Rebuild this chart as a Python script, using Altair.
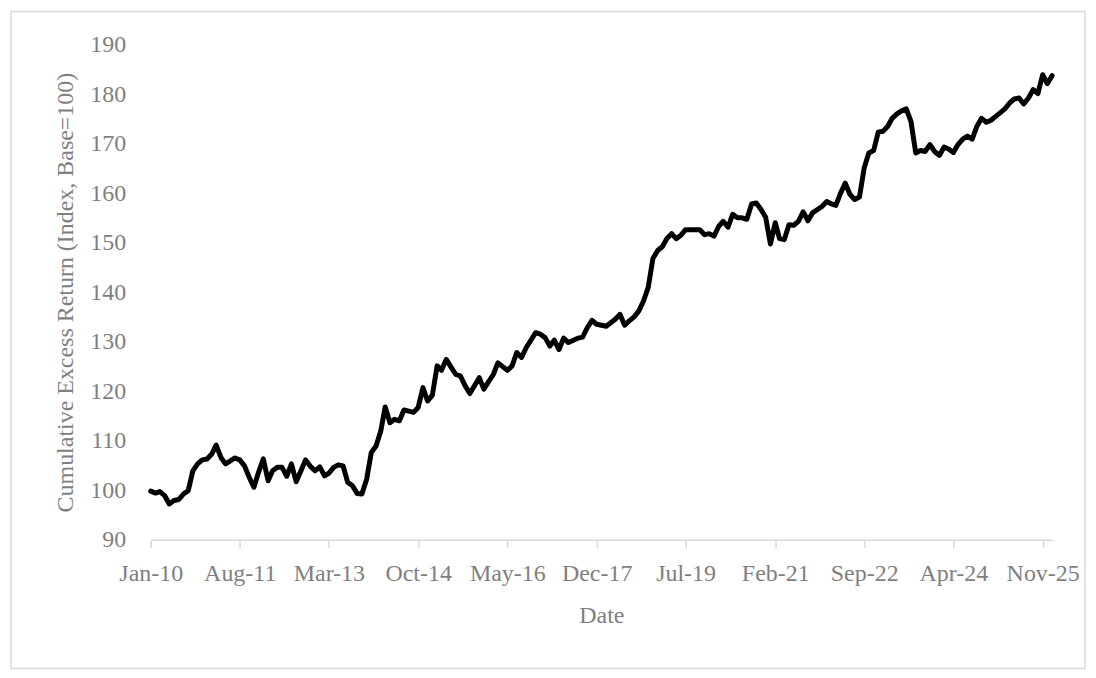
import altair as alt
import pandas as pd

month_index = [
    0, 1, 2, 3, 4, 5, 6, 7, 8, 9, 10, 11, 12, 13, 14, 15, 16, 17, 18, 19,
    20, 21, 22, 23, 24, 25, 26, 27, 28, 29, 30, 31, 32, 33, 34, 35, 36, 37, 38, 39,
    40, 41, 42, 43, 44, 45, 46, 47, 48, 49, 50, 51, 52, 53, 54, 56, 57, 58, 59,
    60, 61, 62, 63, 64, 65, 66, 67, 68, 70, 71, 72, 73, 74, 76, 77, 78, 79,
    80, 82, 83, 84, 85, 86, 87, 88, 89, 91, 92, 93, 94, 95, 97, 99,
    100, 101, 102, 103, 104, 105, 106, 107, 108, 109, 110, 111, 112, 113, 114, 116, 117, 118, 119,
    120, 121, 122, 123, 124, 125, 126, 127, 128, 129, 130, 131, 132, 133, 134, 135, 136, 137, 138, 139,
    140, 141, 143, 144, 145, 146, 147, 148, 149, 150, 151, 152, 153, 154, 155, 156, 157, 158, 159,
    160, 161, 162, 163, 164, 165, 166, 167, 168, 169, 170, 171, 172, 173, 174, 175, 176, 177, 178, 179,
    180, 182, 183, 184, 185, 186, 187, 188, 189, 190, 191, 192,
]
index_values = [
    99.8, 99.4, 99.7, 98.9, 97.2, 97.9, 98.1, 99.2, 99.9, 103.9, 105.3, 106.1, 106.3, 107.3, 109.1, 106.6, 105.3, 105.9, 106.5, 106.1,
    104.9, 102.6, 100.6, 103.6, 106.3, 101.9, 103.9, 104.6, 104.6, 102.8, 105.3, 101.7, 103.9, 106.1, 104.8, 103.9, 104.7, 102.9, 103.4, 104.6,
    105.1, 104.9, 101.6, 100.9, 99.3, 99.2, 102.2, 107.6, 108.9, 112.0, 116.8, 113.6, 114.3, 114.0, 116.2, 115.7, 116.7, 120.7, 118.0,
    119.2, 125.1, 124.2, 126.4, 124.9, 123.4, 123.1, 121.1, 119.5, 122.7, 120.4, 121.9, 123.4, 125.7, 124.2, 125.1, 127.8, 126.8,
    128.8, 131.8, 131.5, 130.8, 129.1, 130.3, 128.4, 130.7, 129.8, 130.7, 130.9, 132.8, 134.3, 133.5, 133.1, 134.5,
    135.5, 133.3, 134.2, 135.0, 136.2, 138.2, 141.0, 146.8, 148.4, 149.2, 150.8, 151.8, 150.8, 151.5, 152.6, 152.6, 152.6, 151.6, 151.8,
    151.3, 153.3, 154.3, 153.1, 155.7, 155.0, 155.0, 154.7, 157.8, 158.0, 156.7, 155.1, 149.7, 154.0, 150.8, 150.6, 153.6, 153.5, 154.3, 156.2,
    154.4, 156.0, 157.3, 158.3, 157.8, 157.5, 160.0, 162.0, 159.7, 158.7, 159.2, 165.1, 168.1, 168.6, 172.3, 172.5, 173.5, 175.1, 176.0,
    176.6, 177.0, 174.5, 168.1, 168.6, 168.4, 169.8, 168.4, 167.6, 169.3, 168.9, 168.2, 169.8, 170.9, 171.5, 170.9, 173.5, 175.1, 174.3, 174.7,
    175.5, 177.0, 178.2, 179.0, 179.2, 178.0, 179.2, 180.9, 180.1, 183.9, 182.1, 183.7,
]

tick_months = [(2010, 1), (2011, 8), (2013, 3), (2014, 10), (2016, 5), (2017, 12),
               (2019, 7), (2021, 2), (2022, 9), (2024, 4), (2025, 11)]
y_ticks = [90, 100, 110, 120, 130, 140, 150, 160, 170, 180, 190]

start = pd.Timestamp("2010-01-01")
dates = [(start + pd.DateOffset(months=m)).strftime("%Y-%m-%d") for m in month_index]
df = pd.DataFrame({"date": dates, "value": index_values})

FONT = "Liberation Serif"
GREY = "#7f7f7f"

x_enc = alt.X(
    "date:T",
    title="Date",
    scale=alt.Scale(
        type="utc",
        domain=[alt.DateTime(year=2010, month=1, date=1, utc=True),
                alt.DateTime(year=2026, month=1, date=1, utc=True)],
        nice=False,
    ),
    axis=alt.Axis(
        values=[alt.DateTime(year=y, month=m, date=1, utc=True) for y, m in tick_months],
        format="%b-%y",
        grid=False,
        domainColor="#d9d9d9",
        domainWidth=1.5,
        tickColor="#d9d9d9",
        tickWidth=1.5,
        tickSize=8,
        labelPadding=14,
        titlePadding=18,
        labelFlush=False,
        labelOverlap=False,
        labelFont=FONT,
        titleFont=FONT,
        labelFontSize=24,
        titleFontSize=24,
        labelColor=GREY,
        titleColor=GREY,
        titleFontWeight="normal",
    ),
)
y_enc = alt.Y(
    "value:Q",
    title="Cumulative Excess Return (Index, Base=100)",
    scale=alt.Scale(domain=[90, 190], nice=False, zero=False),
    axis=alt.Axis(
        values=y_ticks,
        grid=False,
        domain=False,
        ticks=False,
        labelPadding=25,
        titlePadding=12,
        labelFont=FONT,
        titleFont=FONT,
        labelFontSize=24,
        titleFontSize=24,
        labelColor=GREY,
        titleColor=GREY,
        titleFontWeight="normal",
    ),
)

line = alt.Chart(df).mark_line(
    color="black", strokeWidth=5, strokeJoin="round", strokeCap="round"
).encode(x=x_enc, y=y_enc)

frame = alt.Chart(pd.DataFrame({"k": [0]})).mark_rect(
    fillOpacity=0, stroke="#d9d9d9", strokeWidth=1.5, clip=False
).encode(
    x=alt.value(-140), x2=alt.value(936), y=alt.value(-33), y2=alt.value(625)
)

chart = (
    alt.layer(frame, line)
    .properties(
        width=903,
        height=496,
        padding={"left": 2, "top": 2, "right": 2, "bottom": 2},
        background="white",
    )
    .configure_view(stroke="transparent")
)

chart.save("out.html", embed_options={"renderer": "svg", "actions": False})
